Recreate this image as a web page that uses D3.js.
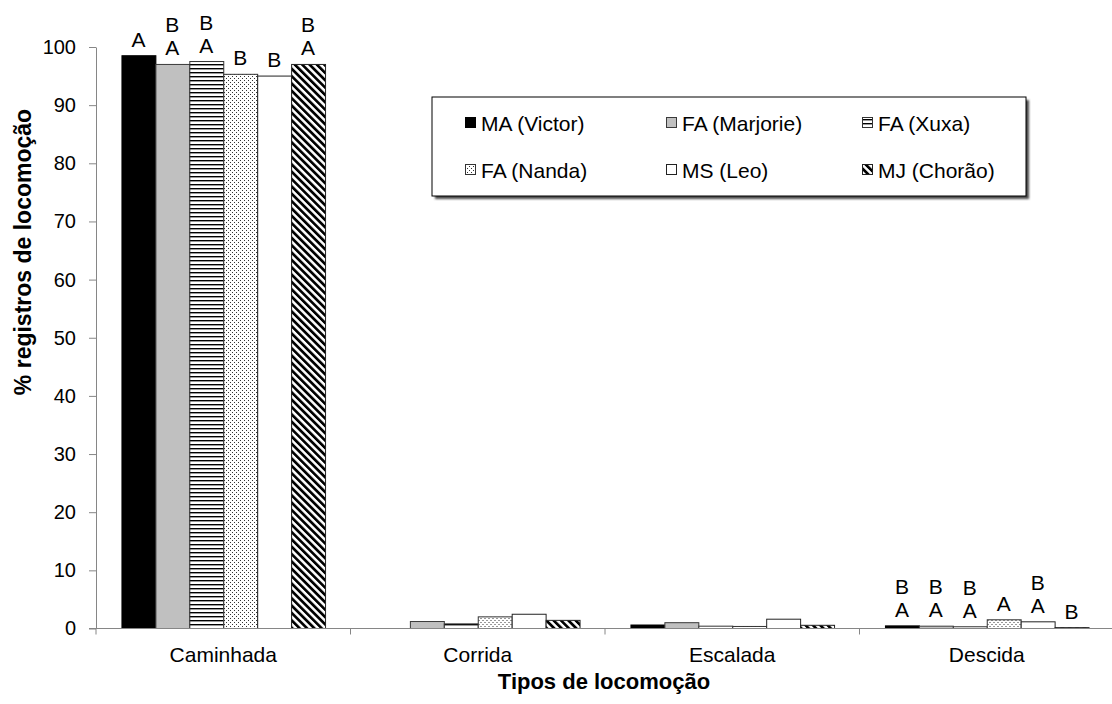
<!DOCTYPE html>
<html>
<head>
<meta charset="utf-8">
<script src="https://cdn.jsdelivr.net/npm/d3@7"></script>
<style>
  body { margin: 0; background: #fff; }
  svg { font-family: "Liberation Sans", Arial, sans-serif; }
</style>
</head>
<body>
<div id="chart"></div>
<script>
const categories = ["Caminhada", "Corrida", "Escalada", "Descida"];
const seriesNames = ["MA (Victor)", "FA (Marjorie)", "FA (Xuxa)", "FA (Nanda)", "MS (Leo)", "MJ (Chorão)"];

// % of records per locomotion type, one array per animal
const maVictor = [98.5, 0, 0.6, 0.45];
const faMarjorie = [97.0, 1.2, 1.0, 0.4];
const faXuxa = [97.5, 0.8, 0.4, 0.3];
const faNanda = [95.3, 2.0, 0.35, 1.5];
const msLeo = [95.0, 2.45, 1.6, 1.15];
const mjChorao = [97.0, 1.4, 0.55, 0.15];

// significance letters above bars (top line first)
const lettersCaminhada = [["A"], ["B", "A"], ["B", "A"], ["B"], ["B"], ["B", "A"]];
const lettersDescida = [["B", "A"], ["B", "A"], ["B", "A"], ["A"], ["B", "A"], ["B"]];

const yTicks = [0, 10, 20, 30, 40, 50, 60, 70, 80, 90, 100];

const seriesValues = [maVictor, faMarjorie, faXuxa, faNanda, msLeo, mjChorao];
const letters = { Caminhada: lettersCaminhada, Descida: lettersDescida };

const width = 1112, height = 704;
const margin = { top: 47, right: -2, bottom: 75, left: 96 };

const svg = d3.select("#chart").append("svg")
  .attr("width", width)
  .attr("height", height);

// fills
const defs = svg.append("defs");

const hs = defs.append("pattern").attr("id", "hstripe")
  .attr("patternUnits", "userSpaceOnUse").attr("width", 4).attr("height", 4);
hs.append("rect").attr("width", 4).attr("height", 4).attr("fill", "#fff");
hs.append("rect").attr("y", 0).attr("width", 4).attr("height", 1.4).attr("fill", "#000");

const dots = defs.append("pattern").attr("id", "dots")
  .attr("patternUnits", "userSpaceOnUse").attr("width", 4).attr("height", 4);
dots.append("rect").attr("width", 4).attr("height", 4).attr("fill", "#fff");
dots.append("rect").attr("x", 0).attr("y", 0).attr("width", 1).attr("height", 1).attr("fill", "#333");
dots.append("rect").attr("x", 2).attr("y", 2).attr("width", 1).attr("height", 1).attr("fill", "#333");

const diag = defs.append("pattern").attr("id", "diag")
  .attr("patternUnits", "userSpaceOnUse").attr("width", 5.2).attr("height", 10)
  .attr("patternTransform", "rotate(-45)");
diag.append("rect").attr("width", 5.2).attr("height", 10).attr("fill", "#fff");
diag.append("rect").attr("width", 2.7).attr("height", 10).attr("fill", "#000");

const blur = defs.append("filter").attr("id", "shadow")
  .attr("x", "-10%").attr("y", "-10%").attr("width", "120%").attr("height", "130%");
blur.append("feGaussianBlur").attr("stdDeviation", 1.2);

const fills = ["#000", "#c0c0c0", "url(#hstripe)", "url(#dots)", "#fff", "url(#diag)"];
const strokes = ["#000", "#3a3a3a", "#333", "#333", "#222", "#222"];

const x0 = d3.scaleBand()
  .domain(categories)
  .range([margin.left, width - margin.right])
  .padding(0);

const x1 = d3.scaleBand()
  .domain(d3.range(seriesNames.length))
  .range([0, x0.bandwidth()])
  .paddingInner(0)
  .paddingOuter(0.75);

const y = d3.scaleLinear()
  .domain([0, 100])
  .range([height - margin.bottom - 0.5, margin.top]);

const axisColor = "#868686";

// y axis
const yAxis = svg.append("g")
  .attr("transform", `translate(${margin.left},0)`)
  .call(d3.axisLeft(y).tickValues(yTicks).tickSize(7).tickPadding(13).tickSizeOuter(0));
yAxis.select(".domain").attr("stroke", axisColor);
yAxis.selectAll(".tick line").attr("stroke", axisColor);
yAxis.selectAll(".tick text")
  .attr("font-size", 20).attr("fill", "#000")
  .attr("font-family", "Liberation Sans, Arial, sans-serif");

// bars
const groups = svg.append("g").selectAll("g")
  .data(categories)
  .join("g")
  .attr("transform", d => `translate(${x0(d)},0)`);

groups.selectAll("rect")
  .data((cat, ci) => seriesValues.map((vals, si) => ({ cat, si, v: vals[ci] })))
  .join("rect")
  .filter(d => d.v > 0)
  .attr("x", d => x1(d.si) + 0.5)
  .attr("y", d => y(d.v))
  .attr("width", x1.bandwidth())
  .attr("height", d => y(0) - y(d.v))
  .attr("fill", d => fills[d.si])
  .attr("stroke", d => strokes[d.si])
  .attr("stroke-width", 1);

// x axis
const xAxisY = y(0);
const xg = svg.append("g").attr("transform", `translate(0,${xAxisY})`);
xg.append("line")
  .attr("x1", margin.left - 7).attr("x2", width)
  .attr("stroke", axisColor);
xg.selectAll(".sep")
  .data(categories.slice(0, -1))
  .join("line")
  .attr("x1", d => x0(d) + x0.bandwidth())
  .attr("x2", d => x0(d) + x0.bandwidth())
  .attr("y1", 0).attr("y2", 6)
  .attr("stroke", axisColor);
xg.append("line")
  .attr("x1", margin.left).attr("x2", margin.left)
  .attr("y1", 0).attr("y2", 6)
  .attr("stroke", axisColor);
xg.selectAll(".cat")
  .data(categories)
  .join("text")
  .attr("x", d => x0(d) + x0.bandwidth() / 2)
  .attr("y", 33)
  .attr("text-anchor", "middle")
  .attr("font-size", 21)
  .text(d => d);

// letters above bars
Object.keys(letters).forEach(cat => {
  const ci = categories.indexOf(cat);
  letters[cat].forEach((lines, si) => {
    const v = seriesValues[si][ci];
    const cx = x0(cat) + x1(si) + x1.bandwidth() / 2;
    const base = y(v) - 9;
    lines.slice().reverse().forEach((t, k) => {
      svg.append("text")
        .attr("x", cx)
        .attr("y", base - k * 23)
        .attr("text-anchor", "middle")
        .attr("font-size", 21)
        .text(t);
    });
  });
});

// axis titles
svg.append("text")
  .attr("transform", "translate(31,252) rotate(-90)")
  .attr("text-anchor", "middle")
  .attr("font-size", 23)
  .attr("font-weight", "bold")
  .text("% registros de locomoção");

svg.append("text")
  .attr("x", (margin.left + width) / 2)
  .attr("y", 689)
  .attr("text-anchor", "middle")
  .attr("font-size", 22)
  .attr("font-weight", "bold")
  .text("Tipos de locomoção");

// legend
const lg = svg.append("g").attr("transform", "translate(432,97)");
lg.append("rect")
  .attr("x", 3).attr("y", 3).attr("width", 594).attr("height", 99)
  .attr("fill", "#4a4a4a").attr("filter", "url(#shadow)");
lg.append("rect")
  .attr("width", 594).attr("height", 99)
  .attr("fill", "#fff").attr("stroke", "#000");

const colX = [33, 234, 430];
const rowY = [26, 73];
const items = lg.selectAll(".item")
  .data(seriesNames)
  .join("g")
  .attr("transform", (d, i) => `translate(${colX[i % 3]},${rowY[Math.floor(i / 3)]})`);
items.append("rect")
  .attr("x", 0.5).attr("y", -5.5)
  .attr("width", 10).attr("height", 10)
  .attr("fill", (d, i) => fills[i])
  .attr("stroke", (d, i) => strokes[i]);
items.append("text")
  .attr("x", 16)
  .attr("y", 7.5)
  .attr("font-size", 21)
  .text(d => d);
</script>
</body>
</html>
